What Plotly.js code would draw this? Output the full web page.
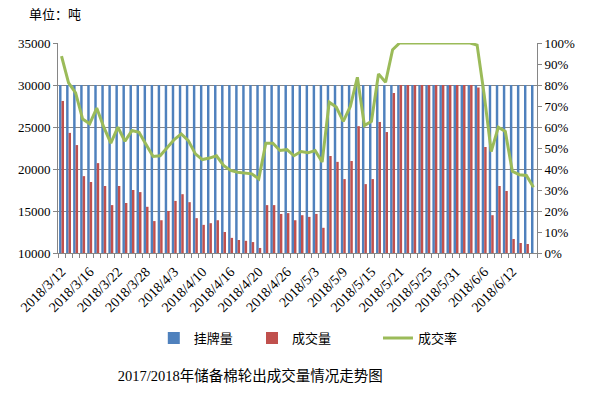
<!DOCTYPE html>
<html><head><meta charset="utf-8">
<script src="https://cdn.plot.ly/plotly-3.0.1.min.js"></script>
<style>html,body{margin:0;padding:0;background:#fff}#chart{width:597px;height:395px}</style>
</head><body><div id="chart"></div>
<script>
const dates = ["2018/3/12","2018/3/13","2018/3/14","2018/3/15","2018/3/16","2018/3/19","2018/3/20","2018/3/21","2018/3/22","2018/3/23",
"2018/3/26","2018/3/27","2018/3/28","2018/3/29","2018/3/30","2018/4/2","2018/4/3","2018/4/4","2018/4/8","2018/4/9",
"2018/4/10","2018/4/11","2018/4/12","2018/4/13","2018/4/16","2018/4/17","2018/4/18","2018/4/19","2018/4/20","2018/4/23",
"2018/4/24","2018/4/25","2018/4/26","2018/4/27","2018/4/28","2018/5/2","2018/5/3","2018/5/4","2018/5/7","2018/5/8",
"2018/5/9","2018/5/10","2018/5/11","2018/5/14","2018/5/15","2018/5/16","2018/5/17","2018/5/18","2018/5/21","2018/5/22",
"2018/5/23","2018/5/24","2018/5/25","2018/5/28","2018/5/29","2018/5/30","2018/5/31","2018/6/1","2018/6/4","2018/6/5",
"2018/6/6","2018/6/7","2018/6/8","2018/6/11","2018/6/12","2018/6/13","2018/6/14","2018/6/15"];

const listed = [30000,30000,30000,30000,30000,30000,30000,30000,30000,30000,
30000,30000,30000,30000,30000,30000,30000,30000,30000,30000,
30000,30000,30000,30000,30000,30000,30000,30000,30000,30000,
30000,30000,30000,30000,30000,30000,30000,30000,30000,30000,
30000,30000,30000,30000,30000,30000,30000,30000,30000,30000,
30000,30000,30000,30000,30000,30000,30000,30000,30000,30000,
30000,30000,30000,30000,30000,30000,30000,30000];

const traded = [28100,24300,22850,19150,18450,20700,17980,15700,17980,15950,
17500,17250,15500,13800,13900,15000,16200,17000,16050,14150,
13350,13550,13900,12500,11800,11550,11450,11300,10600,15700,
15700,14650,14750,13900,14500,14300,14650,13000,21550,20850,
18800,20950,25100,18200,18800,25600,24400,29050,30000,30000,
30000,30000,30000,30000,30000,30000,30000,30000,30000,29700,
22620,14500,17980,17380,11670,11190,11070,9400];

const rate = [93.7,81.0,76.2,63.8,61.5,69.0,59.9,52.3,59.9,53.2,
58.3,57.5,51.7,46.0,46.3,50.0,54.0,56.7,53.5,47.2,
44.5,45.2,46.3,41.7,39.3,38.5,38.2,37.7,35.3,52.3,
52.3,48.8,49.2,46.3,48.3,47.7,48.8,43.3,71.8,69.5,
62.7,69.8,83.7,60.7,62.7,85.3,81.3,96.8,100,100,
100,100,100,100,100,100,100,100,100,99.0,
75.4,48.3,59.9,57.9,38.9,37.3,36.9,31.3];

const names = ["挂牌量","成交量","成交率"];
const labelStep = 4;

const idx = dates.map((d,i)=>i);
const tickIdx = idx.filter(i => i % labelStep === 0);
const tickTxt = tickIdx.map(i => dates[i]);

const serif = "Liberation Serif";
const cjk = "Liberation Serif, Noto Sans CJK SC";
const gray = "#868686";

const traces = [
  {type:'bar', x: idx, y: listed, name: names[0], marker:{color:'#4F81BD'}, legend:'legend', hoverinfo:'skip'},
  {type:'bar', x: idx, y: traded, name: names[1], marker:{color:'#C0504D'}, legend:'legend2', hoverinfo:'skip'},
  {type:'scatter', mode:'lines', x: idx, y: rate, yaxis:'y2', name: names[2], line:{color:'#9BBB59', width:3}, legend:'legend3', hoverinfo:'skip'}
];

const legBase = {orientation:'h', yanchor:'middle', xanchor:'left', y:-0.405, bgcolor:'rgba(0,0,0,0)', font:{family:cjk, size:13, color:'#000'}};

const layout = {
  width:597, height:395,
  margin:{l:58, r:60, t:43, b:142, pad:0},
  paper_bgcolor:'#fff', plot_bgcolor:'#fff',
  barmode:'group', bargap:0.3, bargroupgap:0,
  showlegend:true,
  legend: Object.assign({}, legBase, {x:0.2}),
  legend2: Object.assign({}, legBase, {x:0.405}),
  legend3: Object.assign({}, legBase, {x:0.668}),
  title:{text:'2017/2018年储备棉轮出成交量情况走势图', font:{family:cjk, size:14.5, color:'#000'}, x:0.419, xanchor:'center', xref:'container', y:0.048, yanchor:'middle', yref:'container'},
  xaxis:{range:[-0.5, 67.5], tickmode:'array', tickvals: tickIdx, ticktext: tickTxt, tickangle:-45,
    ticks:'outside', ticklen:4, tickcolor:'rgba(0,0,0,0)', showline:true, linecolor:gray, linewidth:1,
    showgrid:false, zeroline:false, tickfont:{family:serif, size:14, color:'#000'},
    minor:{ticks:'outside', tick0:-0.5, dtick:1, ticklen:4, tickcolor:gray, tickwidth:1, showgrid:false}},
  yaxis:{range:[10000,35000], dtick:5000, tick0:10000, tickformat:'d', showgrid:true, gridcolor:gray, gridwidth:1,
    showline:true, linecolor:gray, ticks:'outside', ticklen:4, tickcolor:gray, zeroline:false,
    tickfont:{family:serif, size:13, color:'#000'}},
  yaxis2:{overlaying:'y', side:'right', range:[0,100], dtick:10, tick0:0, ticksuffix:'%', showgrid:false,
    showline:true, linecolor:gray, ticks:'outside', ticklen:4, tickcolor:gray, zeroline:false,
    tickfont:{family:serif, size:13, color:'#000'}},
  annotations:[{text:'单位：吨', xref:'paper', yref:'paper', x:-0.065, y:1.138, xanchor:'left', yanchor:'middle', showarrow:false, font:{family:cjk, size:13, color:'#000'}}]
};

Plotly.newPlot('chart', traces, layout, {displayModeBar:false, staticPlot:true});
</script>
</body></html>
